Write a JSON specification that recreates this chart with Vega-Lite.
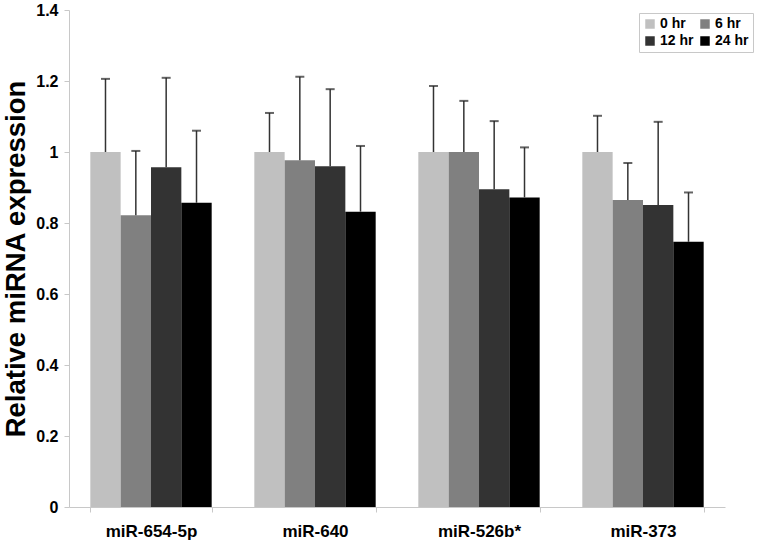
{
  "$schema": "https://vega.github.io/schema/vega-lite/v6.json",
  "autosize": {"type": "none"},
  "padding": {"left": 69, "top": 10, "right": 34, "bottom": 39},
  "width": 656,
  "height": 497,
  "background": "white",
  "config": {
    "view": {"stroke": null},
    "font": "Liberation Sans"
  },
  "data": {
    "values": [
      {"gene": "miR-654-5p", "time": "0 hr", "value": 1.0, "err": 1.206},
      {"gene": "miR-654-5p", "time": "6 hr", "value": 0.822, "err": 1.003},
      {"gene": "miR-654-5p", "time": "12 hr", "value": 0.957, "err": 1.209},
      {"gene": "miR-654-5p", "time": "24 hr", "value": 0.857, "err": 1.06},
      {"gene": "miR-640", "time": "0 hr", "value": 1.0, "err": 1.11},
      {"gene": "miR-640", "time": "6 hr", "value": 0.977, "err": 1.212},
      {"gene": "miR-640", "time": "12 hr", "value": 0.96, "err": 1.177},
      {"gene": "miR-640", "time": "24 hr", "value": 0.832, "err": 1.017},
      {"gene": "miR-526b*", "time": "0 hr", "value": 1.0, "err": 1.186},
      {"gene": "miR-526b*", "time": "6 hr", "value": 1.0, "err": 1.144},
      {"gene": "miR-526b*", "time": "12 hr", "value": 0.895, "err": 1.087},
      {"gene": "miR-526b*", "time": "24 hr", "value": 0.872, "err": 1.013},
      {"gene": "miR-373", "time": "0 hr", "value": 1.0, "err": 1.102},
      {"gene": "miR-373", "time": "6 hr", "value": 0.865, "err": 0.969},
      {"gene": "miR-373", "time": "12 hr", "value": 0.851, "err": 1.085},
      {"gene": "miR-373", "time": "24 hr", "value": 0.747, "err": 0.886}
    ]
  },
  "encoding": {
    "x": {
      "field": "gene",
      "type": "nominal",
      "sort": ["miR-654-5p", "miR-640", "miR-526b*", "miR-373"],
      "scale": {"paddingInner": 0.26, "paddingOuter": 0.13},
      "axis": {
        "title": null,
        "labelAngle": 0,
        "labelFont": "Liberation Sans",
        "labelFontWeight": "bold",
        "labelFontSize": 17,
        "labelColor": "black",
        "labelPadding": 11,
        "domainColor": "#c8c8c8",
        "tickColor": "#c8c8c8",
        "tickSize": 5,
        "tickBand": "extent",
        "bandPosition": 0
      }
    },
    "xOffset": {
      "field": "time",
      "type": "nominal",
      "sort": ["0 hr", "6 hr", "12 hr", "24 hr"],
      "scale": {"paddingInner": 0, "paddingOuter": 0}
    }
  },
  "layer": [
    {
      "mark": {"type": "bar"},
      "encoding": {
        "y": {
          "field": "value",
          "type": "quantitative",
          "scale": {"domain": [0, 1.4], "nice": false},
          "axis": {
            "title": "Relative miRNA expression",
            "titleFont": "Liberation Sans",
            "titleFontSize": 27.5,
            "titleFontWeight": "bold",
            "titleColor": "black",
            "titlePadding": 5,
            "values": [0, 0.2, 0.4, 0.6, 0.8, 1, 1.2, 1.4],
            "labelExpr": "datum.value == 0 ? '0' : datum.value == 1 ? '1' : format(datum.value, '.1f')",
            "labelFont": "Liberation Sans",
            "labelFontWeight": "bold",
            "labelFontSize": 16,
            "labelColor": "black",
            "labelPadding": 6,
            "grid": false,
            "domainColor": "#c8c8c8",
            "tickColor": "#c8c8c8",
            "tickSize": 5
          }
        },
        "color": {
          "field": "time",
          "type": "nominal",
          "sort": ["0 hr", "6 hr", "12 hr", "24 hr"],
          "scale": {
            "domain": ["0 hr", "6 hr", "12 hr", "24 hr"],
            "range": ["#c0c0c0", "#808080", "#333333", "#000000"]
          },
          "legend": {
            "title": null,
            "orient": "none",
            "legendX": 570,
            "legendY": 3,
            "columns": 2,
            "direction": "horizontal",
            "symbolType": "square",
            "symbolSize": 90,
            "symbolStrokeWidth": 0,
            "labelFont": "Liberation Sans",
            "labelFontWeight": "bold",
            "labelFontSize": 14,
            "labelColor": "black",
            "labelOffset": 3,
            "columnPadding": 4,
            "rowPadding": 3,
            "padding": 4,
            "strokeColor": "#c8c8c8",
            "fillColor": "white"
          }
        }
      }
    },
    {
      "mark": {"type": "rule", "color": "#333333", "strokeWidth": 1.5},
      "encoding": {
        "y": {"field": "value", "type": "quantitative"},
        "y2": {"field": "err"}
      }
    },
    {
      "mark": {"type": "tick", "orient": "horizontal", "color": "#222222", "thickness": 2, "size": 9},
      "encoding": {
        "y": {"field": "err", "type": "quantitative"}
      }
    }
  ]
}
